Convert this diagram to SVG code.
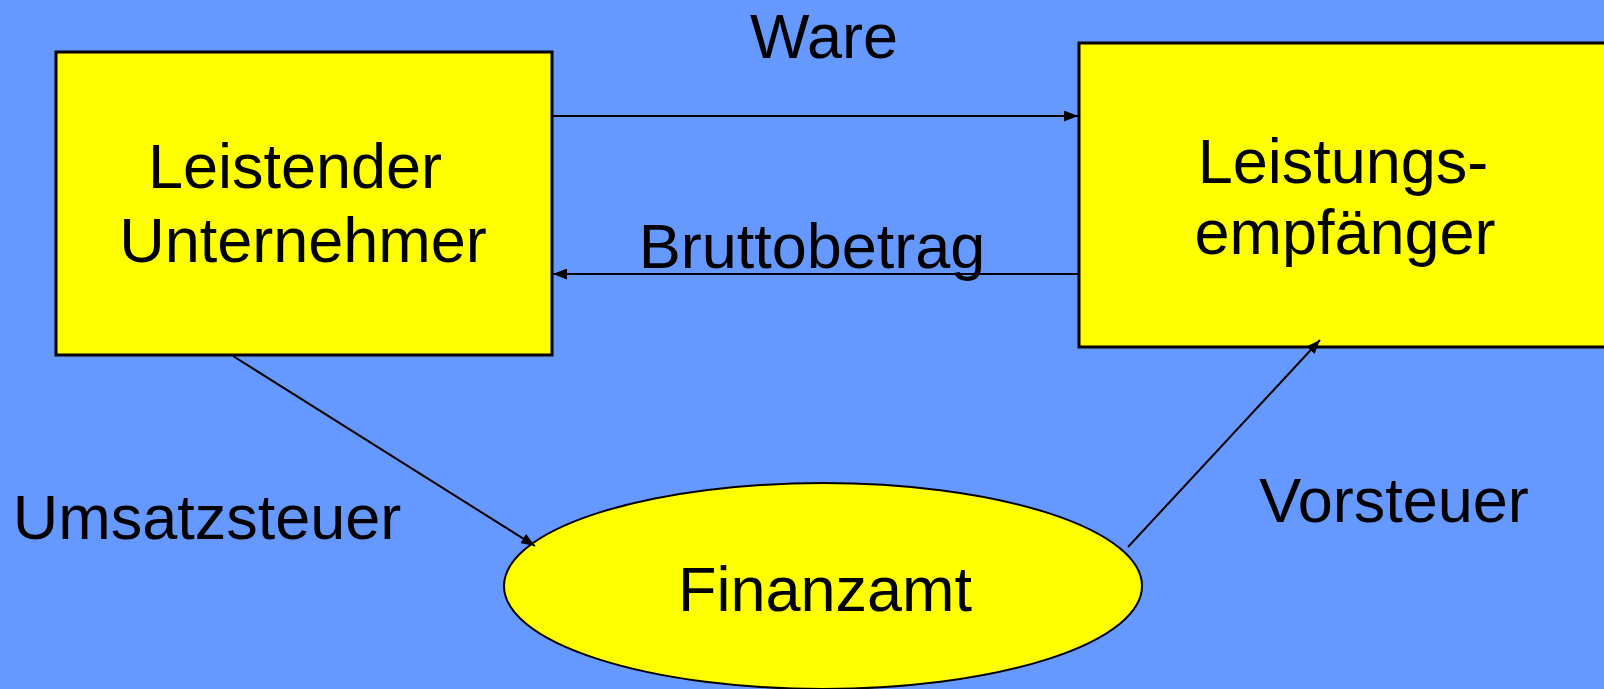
<svg xmlns="http://www.w3.org/2000/svg" width="1604" height="689" viewBox="0 0 1604 689">
<defs>
<marker id="arr" viewBox="0 0 14 11" refX="14" refY="5.5" markerWidth="14" markerHeight="11" markerUnits="userSpaceOnUse" orient="auto">
<path d="M0,0 L14,5.5 L0,11 z" fill="#000"/>
</marker>
<style>
.node{fill:#FFFF00;stroke:#000;stroke-width:3}
.t{font-family:"Liberation Sans",Arial,sans-serif;font-size:63px;fill:#000;text-anchor:middle}
.c{stroke:#000;stroke-width:2;fill:none;marker-end:url(#arr)}
</style>
</defs>
<rect width="1604" height="689" fill="#6699FF"/>
<g id="leistender">
<rect class="node" x="56" y="52" width="496" height="303"/>
<text class="t" x="295" y="188">Leistender</text>
<text class="t" x="303" y="262">Unternehmer</text>
</g>
<g id="empfaenger">
<rect class="node" x="1079" y="43" width="540" height="304"/>
<text class="t" x="1343" y="183">Leistungs-</text>
<text class="t" x="1345" y="254">empfänger</text>
</g>
<g id="finanzamt">
<ellipse class="node" cx="823" cy="586" rx="319" ry="103" style="stroke-width:2"/>
<text class="t" x="825" y="611">Finanzamt</text>
</g>
<g id="connectors">
<line class="c" x1="553" y1="116" x2="1078" y2="116"/>
<line class="c" x1="1078" y1="274" x2="553" y2="274"/>
<line class="c" x1="233" y1="356" x2="535" y2="546"/>
<line class="c" x1="1128" y1="547" x2="1320" y2="340"/>
</g>
<g id="labels">
<text class="t" x="824" y="58">Ware</text>
<text class="t" x="812" y="268">Bruttobetrag</text>
<text class="t" x="207" y="539">Umsatzsteuer</text>
<text class="t" x="1394" y="522">Vorsteuer</text>
</g>
</svg>
